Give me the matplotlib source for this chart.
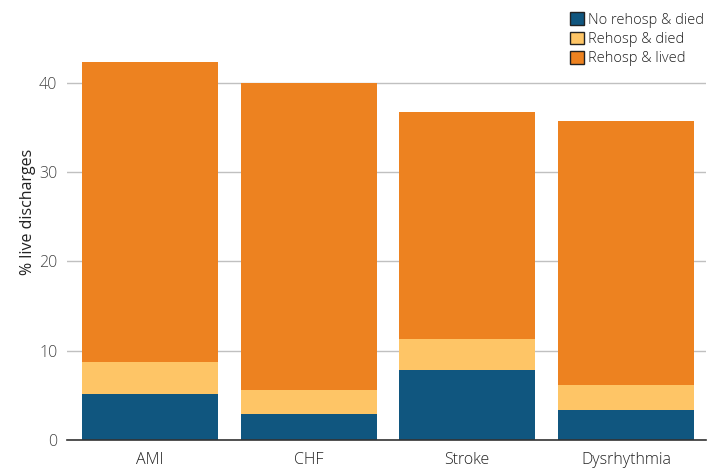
import matplotlib
matplotlib.use("Agg")
import matplotlib.pyplot as plt
from matplotlib.patches import Patch

plt.rcParams['font.family'] = ['Open Sans', 'DejaVu Sans']
plt.rcParams['font.weight'] = 300

categories = ["AMI", "CHF", "Stroke", "Dysrhythmia"]
no_rehosp_died = [5.15, 2.9, 7.85, 3.35]
rehosp_died = [3.6, 2.7, 3.45, 2.8]
rehosp_lived = [33.55, 34.4, 25.4, 29.55]
series_names = ["No rehosp & died", "Rehosp & died", "Rehosp & lived"]
colors = ["#10567f", "#fec566", "#ed8220"]

fig = plt.figure(figsize=(7.09, 4.68), dpi=100)
ax = fig.add_axes([67/709, 28/468, (706-67)/709, (440-28)/468])

x = range(len(categories))
bottom = [0]*len(categories)
for vals, c in zip([no_rehosp_died, rehosp_died, rehosp_lived], colors):
    ax.bar(x, vals, bottom=bottom, width=0.856, color=c, zorder=3)
    bottom = [b+v for b, v in zip(bottom, vals)]

ax.set_xlim(-0.523, 3.505)
ax.set_ylim(0, 46.1)
ax.set_yticks([0, 10, 20, 30, 40])
ax.set_xticks(list(x))
ax.set_xticklabels(categories)
ax.yaxis.grid(True, color="#c0c0c0", linewidth=1, zorder=0)
for s in ["top", "right", "left"]:
    ax.spines[s].set_visible(False)
ax.spines["bottom"].set_color("#333333")
ax.spines["bottom"].set_linewidth(1.2)
ax.spines["bottom"].set_zorder(4)
ax.tick_params(axis="y", length=0, pad=7, labelsize=11.5, labelcolor="#444444")
ax.tick_params(axis="x", length=0, pad=9, labelsize=11.5, labelcolor="#222222")
ax.set_ylabel("% live discharges", fontsize=11.5, color="#222222", labelpad=2, y=0.553)

handles = [Patch(facecolor=c, edgecolor="#222222", linewidth=1) for c in colors]
leg = fig.legend(handles, series_names, loc="upper left", bbox_to_anchor=(560/709, 1-2/468),
                 frameon=False, fontsize=10.5, handlelength=0.95, handleheight=0.95,
                 handletextpad=0.3, labelspacing=0.28, borderpad=0.2)
for t in leg.get_texts():
    t.set_color("#222222")

fig.savefig("out.png", dpi=100)
